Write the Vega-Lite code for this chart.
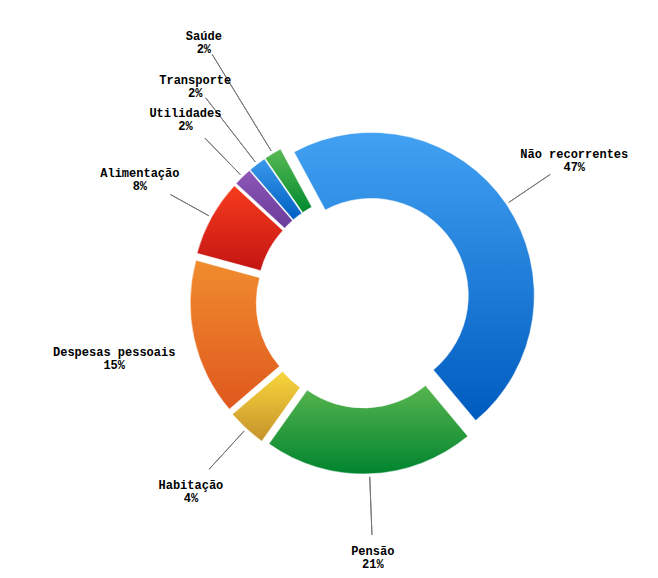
{
  "$schema": "https://vega.github.io/schema/vega-lite/v6.json",
  "width": 590,
  "height": 550,
  "autosize": "none",
  "padding": {"left": 68, "top": 26, "right": 0, "bottom": 0},
  "background": "white",
  "config": {"view": {"stroke": null}},
  "data": {
    "values": [
      {"ordem": 1, "categoria": "Não recorrentes", "valor": 46.8, "pct": 47},
      {"ordem": 2, "categoria": "Pensão", "valor": 20.9, "pct": 21},
      {"ordem": 3, "categoria": "Habitação", "valor": 3.9, "pct": 4},
      {"ordem": 4, "categoria": "Despesas pessoais", "valor": 15.5, "pct": 15},
      {"ordem": 5, "categoria": "Alimentação", "valor": 7.6, "pct": 8},
      {"ordem": 6, "categoria": "Utilidades", "valor": 1.8, "pct": 2},
      {"ordem": 7, "categoria": "Transporte", "valor": 1.75, "pct": 2},
      {"ordem": 8, "categoria": "Saúde", "valor": 1.75, "pct": 2}
    ]
  },
  "transform": [
    {"joinaggregate": [{"op": "sum", "field": "valor", "as": "total"}]},
    {"stack": "valor", "groupby": [], "sort": [{"field": "ordem", "order": "ascending"}], "as": ["v0", "v1"]},
    {"calculate": "-0.4939 + 2 * PI * datum.v0 / datum.total", "as": "a0"},
    {"calculate": "-0.4939 + 2 * PI * datum.v1 / datum.total", "as": "a1"},
    {"calculate": "(datum.a0 + datum.a1) / 2", "as": "am"},
    {"calculate": "sin(datum.am)", "as": "ex"},
    {"calculate": "cos(datum.am)", "as": "ey"},
    {"calculate": "[datum.categoria, datum.pct + '%']", "as": "rotulo"},
    {"calculate": "datum.categoria === 'Saúde' ? 305 : datum.categoria === 'Transporte' ? 274 : 255", "as": "lr"},
    {"calculate": "{'Não recorrentes': 226, 'Pensão': 234, 'Habitação': 228, 'Despesas pessoais': 176, 'Alimentação': 220, 'Utilidades': 227, 'Transporte': 257, 'Saúde': 289}[datum.categoria]", "as": "le"}
  ],
  "layer": [
    {
      "encoding": {
        "theta": {"field": "a0", "type": "quantitative", "scale": null, "stack": null},
        "theta2": {"field": "a1"},
        "x": {"field": "ex", "type": "quantitative", "scale": {"domain": [-1, 1], "range": [285, 305], "nice": false, "zero": false}, "axis": null},
        "y": {"field": "ey", "type": "quantitative", "scale": {"domain": [-1, 1], "range": [285, 265], "nice": false, "zero": false}, "axis": null}
      },
      "layer": [
        {"transform": [{"filter": "datum.ordem === 1"}], "mark": {"type": "arc", "innerRadius": 97, "outerRadius": 163, "stroke": "white", "strokeWidth": 0.5, "fill": {"gradient": "linear", "x1": 0, "y1": 0, "x2": 0, "y2": 1, "stops": [{"offset": 0, "color": "#42a1f2"}, {"offset": 1, "color": "#005bbf"}]}}},
        {"transform": [{"filter": "datum.ordem === 2"}], "mark": {"type": "arc", "innerRadius": 97, "outerRadius": 163, "stroke": "white", "strokeWidth": 0.5, "fill": {"gradient": "linear", "x1": 0, "y1": 0, "x2": 0, "y2": 1, "stops": [{"offset": 0, "color": "#58b54f"}, {"offset": 1, "color": "#00842f"}]}}},
        {"transform": [{"filter": "datum.ordem === 3"}], "mark": {"type": "arc", "innerRadius": 97, "outerRadius": 163, "stroke": "white", "strokeWidth": 0.5, "fill": {"gradient": "linear", "x1": 0, "y1": 0, "x2": 0, "y2": 1, "stops": [{"offset": 0, "color": "#f8d63c"}, {"offset": 1, "color": "#c6922b"}]}}},
        {"transform": [{"filter": "datum.ordem === 4"}], "mark": {"type": "arc", "innerRadius": 97, "outerRadius": 163, "stroke": "white", "strokeWidth": 0.5, "fill": {"gradient": "linear", "x1": 0, "y1": 0, "x2": 0, "y2": 1, "stops": [{"offset": 0, "color": "#f08c2e"}, {"offset": 1, "color": "#df581e"}]}}},
        {"transform": [{"filter": "datum.ordem === 5"}], "mark": {"type": "arc", "innerRadius": 97, "outerRadius": 163, "stroke": "white", "strokeWidth": 0.5, "fill": {"gradient": "linear", "x1": 0, "y1": 0, "x2": 0, "y2": 1, "stops": [{"offset": 0, "color": "#f73c1e"}, {"offset": 1, "color": "#c31512"}]}}},
        {"transform": [{"filter": "datum.ordem === 6"}], "mark": {"type": "arc", "innerRadius": 97, "outerRadius": 163, "stroke": "white", "strokeWidth": 0.5, "fill": {"gradient": "linear", "x1": 0, "y1": 0, "x2": 0, "y2": 1, "stops": [{"offset": 0, "color": "#8d56b6"}, {"offset": 1, "color": "#6a3d9a"}]}}},
        {"transform": [{"filter": "datum.ordem === 7"}], "mark": {"type": "arc", "innerRadius": 97, "outerRadius": 163, "stroke": "white", "strokeWidth": 0.5, "fill": {"gradient": "linear", "x1": 0, "y1": 0, "x2": 0, "y2": 1, "stops": [{"offset": 0, "color": "#3b9aea"}, {"offset": 1, "color": "#005fc3"}]}}},
        {"transform": [{"filter": "datum.ordem === 8"}], "mark": {"type": "arc", "innerRadius": 97, "outerRadius": 163, "stroke": "white", "strokeWidth": 0.5, "fill": {"gradient": "linear", "x1": 0, "y1": 0, "x2": 0, "y2": 1, "stops": [{"offset": 0, "color": "#5ab953"}, {"offset": 1, "color": "#008a30"}]}}}
      ]
    },
    {
      "transform": [{"filter": "datum.categoria !== 'Despesas pessoais'"}],
      "mark": {"type": "arc", "filled": false, "innerRadius": 176, "stroke": "#777777", "strokeWidth": 1},
      "encoding": {
        "theta": {"field": "am", "type": "quantitative", "scale": null, "stack": null},
        "theta2": {"field": "am"},
        "radius": {"field": "le", "type": "quantitative", "scale": null}
      }
    },
    {
      "mark": {"type": "text", "font": "Liberation Mono", "fontWeight": "bold", "fontSize": 12, "lineHeight": 13, "align": "center", "baseline": "middle", "dy": -4.5, "color": "#000000"},
      "encoding": {
        "theta": {"field": "am", "type": "quantitative", "scale": null, "stack": null},
        "radius": {"field": "lr", "type": "quantitative", "scale": null},
        "text": {"field": "rotulo", "type": "nominal"}
      }
    }
  ]
}
